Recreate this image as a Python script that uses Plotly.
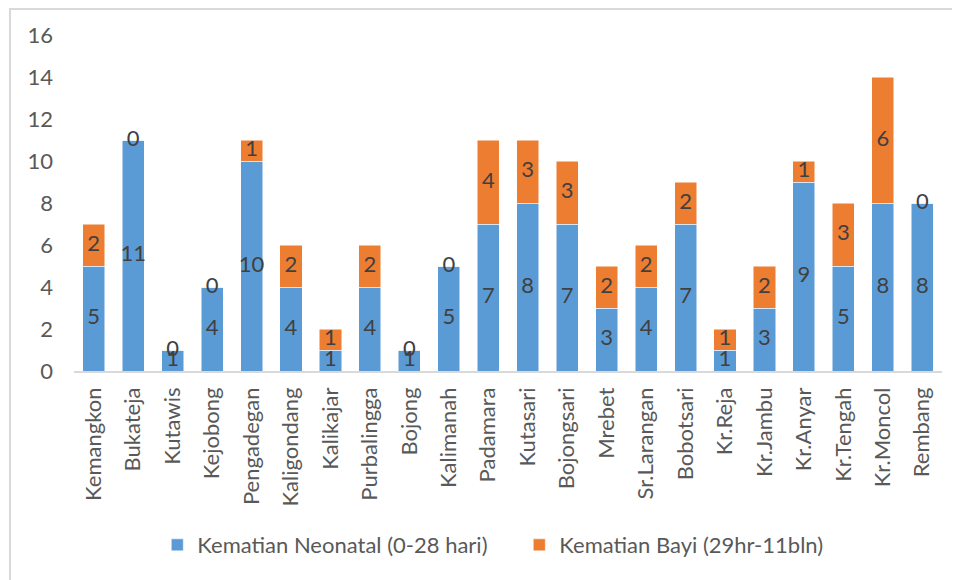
import plotly.graph_objects as go

kecamatan = ['Kemangkon', 'Bukateja', 'Kutawis', 'Kejobong', 'Pengadegan', 'Kaligondang',
             'Kalikajar', 'Purbalingga', 'Bojong', 'Kalimanah', 'Padamara', 'Kutasari',
             'Bojongsari', 'Mrebet', 'Sr.Larangan', 'Bobotsari', 'Kr.Reja', 'Kr.Jambu',
             'Kr.Anyar', 'Kr.Tengah', 'Kr.Moncol', 'Rembang']
neonatal = [5, 11, 1, 4, 10, 4, 1, 4, 1, 5, 7, 8, 7, 3, 4, 7, 1, 3, 9, 5, 8, 8]
bayi = [2, 0, 0, 0, 1, 2, 1, 2, 0, 0, 4, 3, 3, 2, 2, 2, 1, 2, 1, 3, 6, 0]

y_ticks = [0, 2, 4, 6, 8, 10, 12, 14, 16]

FONT = 'Lato'
GREY = '#595959'
BLUE = '#5B9BD5'
ORANGE = '#ED7D31'

fig = go.Figure()
fig.add_trace(go.Bar(x=kecamatan, y=neonatal, name='Kematian Neonatal (0-28 hari)',
                     marker=dict(color=BLUE, line=dict(color='white', width=0.5))))
fig.add_trace(go.Bar(x=kecamatan, y=bayi, name='Kematian Bayi (29hr-11bln)',
                     marker=dict(color=ORANGE, line=dict(color='white', width=0.5))))

# data labels at the middle of each segment (zero segments sit on top of the stack)
mid_neo = [v / 2 for v in neonatal]
mid_bayi = [n + b / 2 for n, b in zip(neonatal, bayi)]
fig.add_trace(go.Scatter(x=kecamatan, y=mid_neo, text=[str(v) for v in neonatal], mode='text',
                         textfont=dict(family=FONT, size=22, color='#404040'),
                         showlegend=False, hoverinfo='skip'))
fig.add_trace(go.Scatter(x=kecamatan, y=mid_bayi, text=[str(v) for v in bayi], mode='text',
                         textfont=dict(family=FONT, size=22, color='#404040'),
                         showlegend=False, hoverinfo='skip'))

fig.update_layout(
    barmode='stack',
    bargap=0.44,
    width=960, height=580,
    margin=dict(l=66, r=26, t=27, b=217, autoexpand=False),
    paper_bgcolor='white', plot_bgcolor='white',
    font=dict(family=FONT, size=22, color=GREY),
    legend=dict(orientation='h', x=0.513, xanchor='center', y=-0.518, yanchor='middle',
                font=dict(family=FONT, size=22, color=GREY), traceorder='normal',
                itemwidth=30, entrywidth=317),
    shapes=[dict(type='rect', xref='paper', yref='paper',
                 x0=-0.0737, x1=1.05, y0=-0.66, y1=1.0774,
                 line=dict(color='#D9D9D9', width=2), fillcolor='rgba(0,0,0,0)', layer='below')],
)
fig.update_xaxes(range=[-0.5, len(kecamatan) - 0.5], showline=True, linecolor='#D9D9D9',
                 linewidth=1.5, tickangle=-90, ticks='', showgrid=False,
                 ticklabelstandoff=6, automargin=False,
                 tickfont=dict(family=FONT, size=22, color=GREY))
fig.update_yaxes(range=[0, 16], tickvals=y_ticks, showgrid=False, zeroline=False,
                 showline=False, ticks='', ticklabelstandoff=20, automargin=False,
                 tickfont=dict(family=FONT, size=22, color=GREY))

fig.write_html('out.html')
